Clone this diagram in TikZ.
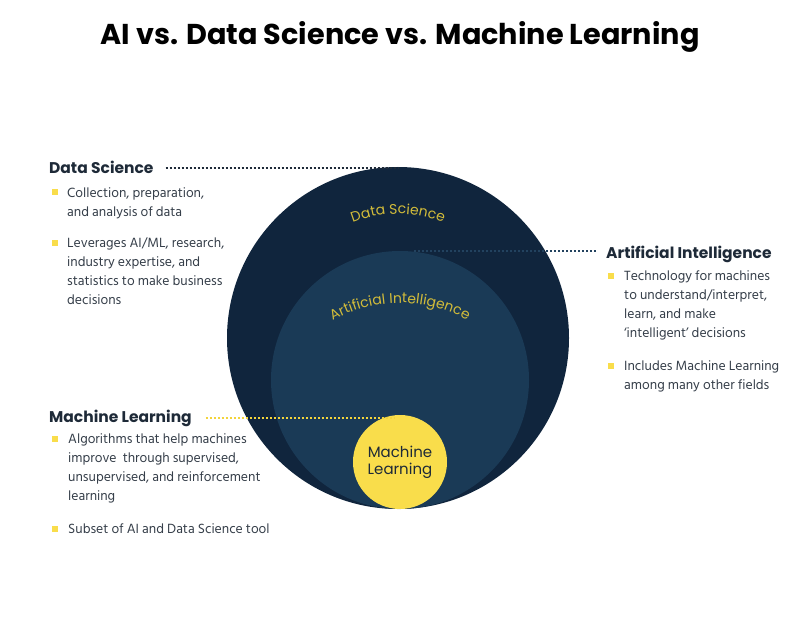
\documentclass[tikz,border=0pt]{standalone}
\usepackage{fontspec}
\setmainfont{Hind Siliguri}
\newfontfamily\popfont{Poppins}
\usetikzlibrary{decorations.text}
\definecolor{dsnavy}{HTML}{10253D}
\definecolor{ainavy}{HTML}{1A3A56}
\definecolor{mlyellow}{HTML}{F9DD4B}
\definecolor{lblyellow}{HTML}{D2BC3A}
\definecolor{headcol}{HTML}{1E2A38}
\definecolor{bodycol}{HTML}{363F4A}
\definecolor{ailine}{HTML}{22425F}
\definecolor{mlline}{HTML}{F3D43C}
\newcommand{\blines}[1]{\vtop{\baselineskip=19.3pt\lineskiplimit=-10pt\halign{##\hfil\cr#1\crcr}}}
\tikzset{
  ring/.style={circle, inner sep=0pt, draw=none},
  head/.style={anchor=base west, inner sep=0pt, text=headcol, font=\popfont\bfseries\fontsize{15.5}{18}\selectfont},
  body/.style={anchor=base west, inner sep=0pt, text=bodycol, font=\fontsize{13.7}{19.3}\selectfont},
  bul/.style={rectangle, fill=mlyellow, minimum size=6pt, inner sep=0pt},
  dotline/.style={line width=1.8pt, dash pattern=on 1.8pt off 2.2pt},
}
\begin{document}
\begin{tikzpicture}[x=1pt,y=1pt]
\useasboundingbox (0,0) rectangle (800,625);
\fill[white] (0,0) rectangle (800,625);

% title
\node[inner sep=0pt, font=\popfont\bfseries\fontsize{28.7}{32}\selectfont, text=black] (title) at (400,588) {AI vs. Data Science vs. Machine Learning};

% circles
\node[ring, fill=dsnavy, minimum size=342pt] (ds) at (398,287) {};
\node[ring, fill=ainavy, minimum size=258pt] (ai) at (400,245) {};
\node[ring, fill=mlyellow, minimum size=94pt, align=center, text=headcol,
      font=\popfont\fontsize{15}{17}\selectfont] (ml) at (400,163) {Machine\\Learning};

% curved labels
\path[decorate, decoration={text along path, text align=center,
  text={|\popfont\fontsize{14}{14}\selectfont\color{lblyellow}|Data Science}}]
  (398,287) ++(135:124) arc[start angle=135, end angle=45, radius=124];
\path[decorate, decoration={text along path, text align=center,
  text={|\popfont\fontsize{14}{14}\selectfont\color{lblyellow}|Artificial Intelligence}}]
  (400,182) ++(140:140) arc[start angle=140, end angle=40, radius=140];

% Data Science block
\node[head] (dshead) at (49,451) {Data Science};
\node[bul] (dsb1) at (54.5,432.5) {};
\node[body] (dst1) at (67,428) {\blines{Collection, preparation,\cr and analysis of data}};
\node[bul] (dsb2) at (54.5,382.5) {};
\node[body] (dst2) at (67,378) {\blines{Leverages AI/ML, research,\cr industry expertise, and\cr statistics to make business\cr decisions}};

% AI block
\node[head] (aihead) at (606,367) {Artificial Intelligence};
\node[bul] (aib1) at (610.5,349.5) {};
\node[body] (ait1) at (624,345) {\blines{Technology for machines\cr to understand/interpret,\cr learn, and make\cr ‘intelligent’ decisions}};
\node[bul] (aib2) at (610.5,259.5) {};
\node[body] (ait2) at (624,255) {\blines{Includes Machine Learning\cr among many other fields}};

% ML block
\node[head] (mlhead) at (49,203) {Machine Learning};
\node[bul] (mlb1) at (54.5,186.5) {};
\node[body] (mlt1) at (68,182) {\blines{Algorithms that help machines\cr improve\ \ through supervised,\cr unsupervised, and reinforcement\cr learning}};
\node[bul] (mlb2) at (54.5,96.5) {};
\node[body] (mlt2) at (68,92) {Subset of AI and Data Science tool};

% connectors
\draw[dotline, headcol] ([xshift=12pt]dshead.east) -- (dshead.east -| ds.north);
\draw[dotline, ailine] ([xshift=14pt]ai.north) -- ([xshift=-9pt]aihead.west |- ai.north);
\draw[dotline, mlline] ([xshift=14pt]mlhead.east) -- ([xshift=-5pt]mlhead.east -| ml.north);
\end{tikzpicture}
\end{document}
